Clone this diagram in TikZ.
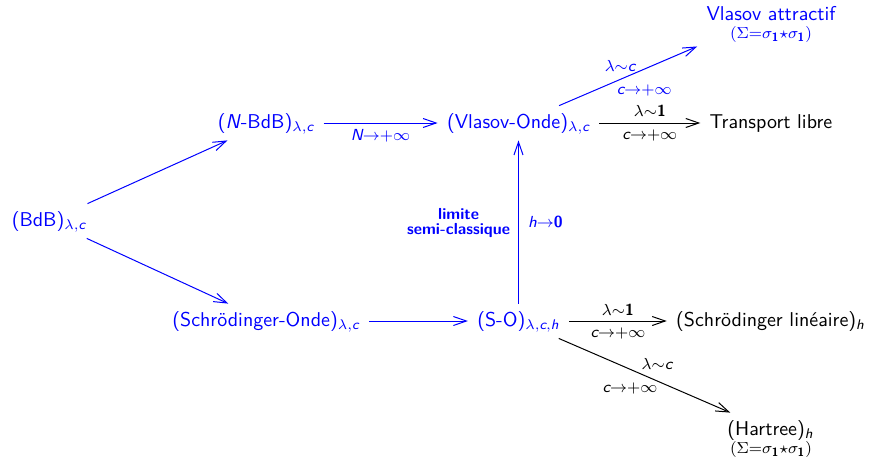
\documentclass[tikz,border=0pt]{standalone}
\usepackage{fontspec}
\usepackage{amsmath}
\renewcommand\familydefault{\sfdefault}
\usetikzlibrary{arrows.meta}
% sans italic variable and bold digit inside formulas
\newcommand\vi[1]{\textit{#1}}
\newcommand\vb[1]{\textbf{#1}}
% tightly set limit formulas
\newcommand\eqlim[1]{$\lambda{\sim}#1$}
\newcommand\tolim[1]{$#1{\to}{+}\infty$}
\newcommand\sigmaconv{$({\Sigma}{=}\sigma_{\vb{1}}{\star}\sigma_{\vb{1}})$}
\begin{document}
\begin{tikzpicture}[x=0.5pt,y=-0.5pt,font=\sffamily,
  obj/.style={inner xsep=4.5pt,inner ysep=3pt,text height=8pt,text depth=3pt},
  lab/.style={font=\sffamily\footnotesize,inner sep=0pt},
  arr/.style={line width=0.5pt,-{Straight Barb[length=6.5pt,width=4.5pt]}}]
\useasboundingbox (0,0) rectangle (869,456);

% models
\node[obj,blue] (bdb)   at (49,221)    {(BdB)$_{\lambda,\vi{c}}$};
\node[obj,blue] (nbdb)  at (266,123)   {(\vi{N}-BdB)$_{\lambda,\vi{c}}$};
\node[obj,blue] (vo)    at (518.5,123) {(Vlasov-Onde)$_{\lambda,\vi{c}}$};
\node[obj,blue] (sonde) at (266,321)   {(Schrödinger-Onde)$_{\lambda,\vi{c}}$};
\node[obj,blue] (so)    at (518.5,321) {(S-O)$_{\lambda,\vi{c},\vi{h}}$};
\node[blue,align=center,inner xsep=4.5pt,inner ysep=2pt] (va) at (771,24)
  {Vlasov attractif\\[-3pt]{\footnotesize\sigmaconv}};
\node[obj] (tl) at (771,123)   {Transport libre};
\node[obj] (sl) at (770.5,321) {(Schrödinger linéaire)$_{\vi{h}}$};
\node[obj] (ht) at (770.5,430) {(Hartree)$_{\vi{h}}$};
\node[lab] (hts) at (771,449) {\sigmaconv};

% limits
\draw[arr,blue] (bdb) -- (nbdb);
\draw[arr,blue] (bdb) -- (sonde);
\draw[arr,blue] (nbdb) -- node[lab,blue,yshift=-6.5pt] {\tolim{\vi{N}}} (vo);
\draw[arr,blue] (sonde) -- (so);
\draw[arr,blue] (so) -- (vo)
  node[midway,anchor=east,xshift=-4pt,yshift=-0.5pt,font=\sffamily\footnotesize\bfseries,align=center,inner sep=0pt] {limite\\[-2pt]semi-classique}
  node[midway,anchor=west,xshift=4.5pt,lab,blue] {$\vi{h}{\to}\vb{0}$};
\draw[arr,blue] (vo) -- (va.south west)
  node[lab,blue,pos=0.5,xshift=-4pt,yshift=5pt] {\eqlim{\vi{c}}}
  node[lab,blue,pos=0.5,xshift=8pt,yshift=-7pt] {\tolim{\vi{c}}};
\draw[arr] (vo) -- node[lab,yshift=6pt] {\eqlim{\vb{1}}}
  node[lab,yshift=-6pt] {\tolim{\vi{c}}} (tl);
\draw[arr] (so) -- node[lab,yshift=5.5pt] {\eqlim{\vb{1}}}
  node[lab,yshift=-6pt] {\tolim{\vi{c}}} (sl);
\draw[arr] (so) -- (ht)
  node[lab,pos=0.5,xshift=6.25pt,yshift=5.75pt] {\eqlim{\vi{c}}}
  node[lab,pos=0.5,xshift=-7.25pt,yshift=-6.25pt] {\tolim{\vi{c}}};
\end{tikzpicture}
\end{document}
